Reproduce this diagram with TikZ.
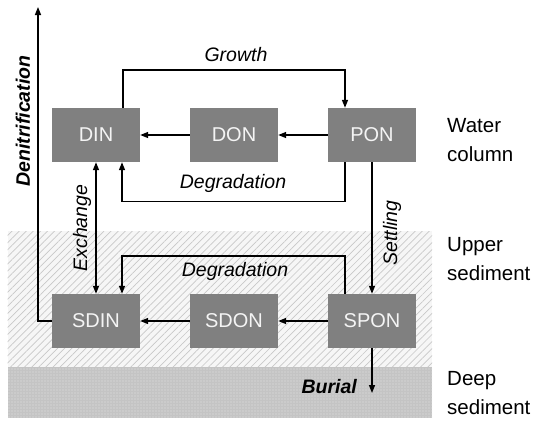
\documentclass[tikz,border=0pt]{standalone}
\usepackage{fontspec}
\setmainfont{Liberation Sans}
\usetikzlibrary{arrows.meta,patterns.meta}
\definecolor{boxgray}{HTML}{808080}
\definecolor{boxtext}{HTML}{F4F4F4}
\definecolor{hatchline}{HTML}{C8C8C8}
\definecolor{hatchbg}{HTML}{F6F6F6}
\definecolor{deepbg}{HTML}{C4C4C4}
\definecolor{deepdot}{HTML}{E6E6E6}
\begin{document}
\begin{tikzpicture}[x=1bp,y=-1bp,
  box/.style={fill=boxgray, text=boxtext, minimum width=88bp, minimum height=54bp,
    inner sep=0pt, font=\fontsize{20bp}{24bp}\selectfont},
  flow/.style={line width=1.4bp, -{Triangle[length=8bp,width=6bp]}},
  twoway/.style={line width=1.4bp, {Triangle[length=8bp,width=6bp]}-{Triangle[length=8bp,width=6bp]}},
  lab/.style={font=\fontsize{19.5bp}{23bp}\selectfont\itshape, inner sep=0pt},
  boldlab/.style={font=\fontsize{19.5bp}{23bp}\selectfont\bfseries\itshape, inner sep=0pt},
  layerlab/.style={font=\fontsize{20.5bp}{29bp}\selectfont, align=left, inner sep=0pt, anchor=west}]
\useasboundingbox (0,0) rectangle (533,420);
% layers
\fill[hatchbg] (7.5,231) rectangle (432,367);
\fill[pattern={Lines[angle=45,distance=5bp,line width=0.7bp]}, pattern color=hatchline] (7.5,231) rectangle (432,367);
\fill[deepbg] (7.5,367) rectangle (432,418);
\fill[pattern={Dots[distance=3bp,radius=0.6bp]}, pattern color=deepdot] (7.5,367) rectangle (432,418);
% boxes
\node[box] (DIN) at (96,135) {DIN};
\node[box] (DON) at (234,135) {DON};
\node[box] (PON) at (372,135) {PON};
\node[box] (SDIN) at (96,321) {SDIN};
\node[box] (SDON) at (234,321) {SDON};
\node[box] (SPON) at (372,321) {SPON};
\coordinate (burialend) at (372,393);
\coordinate (denitop) at (38,7);
% connectors
\draw[flow] ([xshift=27bp]DIN.north) -- ++(0,-38) -| ([xshift=-27bp]PON.north);
\draw[flow] (DON) -- (DIN);
\draw[flow] (PON) -- (DON);
\draw[flow] ([xshift=-27bp]PON.south) -- ++(0,39) -| ([xshift=26bp]DIN.south);
\draw[twoway] (DIN.south) -- (SDIN.north);
\draw[flow] (PON.south) -- (SPON.north);
\draw[flow] ([xshift=-27bp]SPON.north) -- ++(0,-38) -| ([xshift=26bp]SDIN.north);
\draw[flow] (SDON) -- (SDIN);
\draw[flow] (SPON) -- (SDON);
\draw[flow] (SPON.south) -- (burialend);
\draw[flow] (SDIN.west) -| (denitop);
% labels
\node[lab] (lgrowth) at (236,55) {Growth};
\node[lab] (ldeg1) at (233,183) {Degradation};
\node[lab] (ldeg2) at (235,271) {Degradation};
\node[lab, rotate=90] (lexch) at (82,228) {Exchange};
\node[lab, rotate=90] (lsettle) at (392,233) {Settling};
\node[boldlab, rotate=90] (ldenit) at (23,121) {Denitrification};
\node[boldlab, anchor=base east] (lburial) at (357,393) {Burial};
\node[layerlab] (lwater) at (447,140) {Water\\column};
\node[layerlab] (lupper) at (447,259) {Upper\\sediment};
\node[layerlab] (ldeep) at (447,393) {Deep\\sediment};
\end{tikzpicture}
\end{document}
